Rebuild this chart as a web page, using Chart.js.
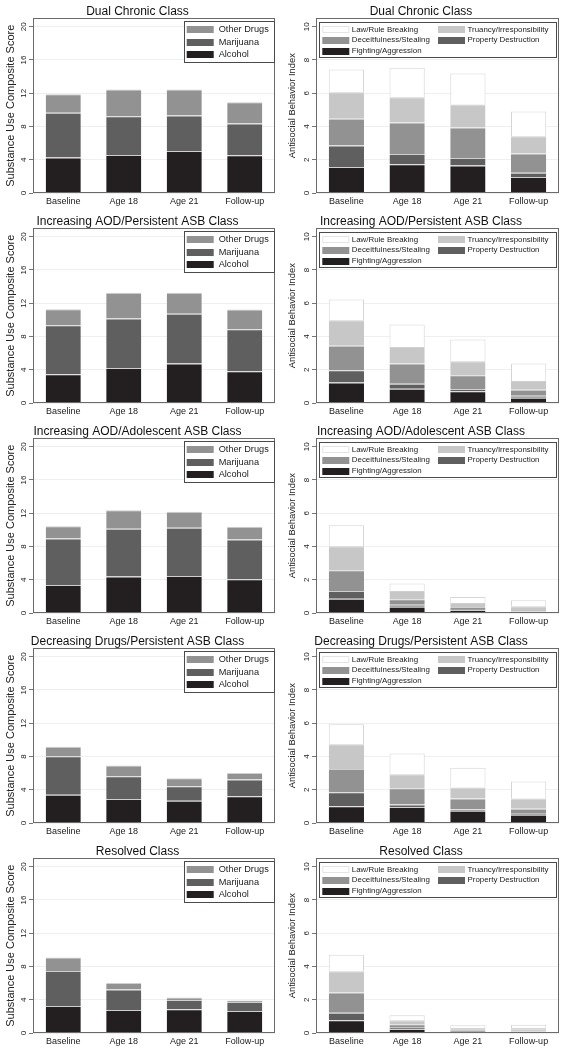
<!DOCTYPE html>
<html lang="en">
<head>
  <meta charset="UTF-8" />
  <title>Substance Use and Antisocial Behavior by Class</title>
  <script src="https://cdn.jsdelivr.net/npm/chart.js"></script>
  <style>
    body {
      margin: 0;
      background: #fff;
      font-family: 'Liberation Sans', Arial, sans-serif;
    }
    .panels {
      display: grid;
      grid-template-columns: 283px 284px;
      grid-template-rows: repeat(5, 210px);
      width: 567px;
    }
    .cell {
      position: relative;
      height: 210px;
    }
  </style>
</head>
<body>
  <div class="panels" id="panels"></div>

  <script>
    const classNames = [
      'Dual Chronic Class',
      'Increasing AOD/Persistent ASB Class',
      'Increasing AOD/Adolescent ASB Class',
      'Decreasing Drugs/Persistent ASB Class',
      'Resolved Class'
    ];
    const timePoints = ['Baseline', 'Age 18', 'Age 21', 'Follow-up'];

    // substance use composite, one row per class (stacked segment sizes)
    const alcohol = [
      [4.26, 4.58, 5.06, 4.54],
      [3.45, 4.22, 4.74, 3.82],
      [3.37, 4.38, 4.46, 4.06],
      [3.41, 2.89, 2.69, 3.21],
      [3.25, 2.77, 2.85, 2.65]
    ];
    const marijuana = [
      [5.38, 4.66, 4.26, 3.81],
      [5.91, 5.94, 5.98, 5.06],
      [5.59, 5.74, 5.78, 4.78],
      [4.62, 2.73, 1.73, 2.01],
      [4.22, 2.45, 1.13, 1.08]
    ];
    const otherDrugs = [
      [2.25, 3.21, 3.13, 2.57],
      [1.93, 3.09, 2.53, 2.36],
      [1.48, 2.25, 1.93, 1.52],
      [1.13, 1.29, 0.96, 0.80],
      [1.61, 0.80, 0.28, 0.17]
    ];

    // antisocial behavior index, one row per class
    const fighting = [
      [1.57, 1.73, 1.65, 0.96],
      [1.24, 0.86, 0.70, 0.32],
      [0.86, 0.38, 0.18, 0.10],
      [1.00, 0.96, 0.74, 0.50],
      [0.76, 0.24, 0.12, 0.10]
    ];
    const propertyDestruction = [
      [1.28, 0.62, 0.46, 0.26],
      [0.73, 0.30, 0.14, 0.12],
      [0.47, 0.12, 0.06, 0.04],
      [0.85, 0.16, 0.08, 0.10],
      [0.46, 0.08, 0.04, 0.04]
    ];
    const deceitfulness = [
      [1.61, 1.89, 1.83, 1.15],
      [1.48, 1.21, 0.83, 0.36],
      [1.24, 0.32, 0.12, 0.10],
      [1.40, 0.97, 0.65, 0.26],
      [1.21, 0.20, 0.06, 0.06]
    ];
    const truancy = [
      [1.60, 1.52, 1.38, 1.04],
      [1.53, 1.00, 0.84, 0.53],
      [1.45, 0.51, 0.24, 0.16],
      [1.49, 0.84, 0.66, 0.61],
      [1.28, 0.24, 0.08, 0.10]
    ];
    const lawBreaking = [
      [1.37, 1.77, 1.87, 1.49],
      [1.24, 1.35, 1.31, 1.04],
      [1.26, 0.44, 0.36, 0.36],
      [1.20, 1.25, 1.20, 1.02],
      [0.99, 0.30, 0.16, 0.20]
    ];

    const suMax = 21, suStep = 4;
    const asbMax = 10.5, asbStep = 2;

    const FONT = "'Liberation Sans', Arial, sans-serif";
    const shades = ['#231f20', '#5f5f5f', '#929292', '#c7c7c7', '#ffffff'];

    // frame around the plot region
    const frame = {
      id: 'frame',
      afterDatasetsDraw(chart) {
        const a = chart.chartArea;
        const ctx = chart.ctx;
        ctx.save();
        ctx.strokeStyle = '#6a6a6a';
        ctx.lineWidth = 1;
        ctx.strokeRect(Math.round(a.left) + 0.5, Math.round(a.top) + 0.5,
          Math.round(a.right - a.left) - 1, Math.round(a.bottom - a.top) - 1);
        ctx.restore();
      }
    };

    // boxed legend inside the plot, laid out in columns
    const boxLegend = {
      id: 'boxLegend',
      afterDraw(chart, args, o) {
        const a = chart.chartArea;
        const ctx = chart.ctx;
        const ds = chart.data.datasets;
        const x0 = Math.round(a.left + o.left);
        const y0 = Math.round(a.top + o.top);
        ctx.save();
        ctx.fillStyle = '#fff';
        ctx.fillRect(x0, y0, o.width, o.height);
        ctx.strokeStyle = '#4a4a4a';
        ctx.lineWidth = 1;
        ctx.strokeRect(x0 + 0.5, y0 + 0.5, o.width, o.height);
        ctx.font = o.fontSize + 'px ' + FONT;
        ctx.textBaseline = 'middle';
        o.order.forEach((di, i) => {
          const col = i % o.columns.length;
          const row = Math.floor(i / o.columns.length);
          const sx = x0 + o.columns[col];
          const cy = y0 + o.firstRow + row * o.rowHeight;
          ctx.fillStyle = ds[di].backgroundColor;
          ctx.fillRect(sx, Math.round(cy - o.swatchH / 2), o.swatchW, o.swatchH);
          if (ds[di].backgroundColor === '#ffffff') {
            ctx.strokeStyle = '#e4e4e4';
            ctx.strokeRect(sx + 0.5, Math.round(cy - o.swatchH / 2) + 0.5, o.swatchW - 1, o.swatchH - 1);
          }
          ctx.fillStyle = '#222';
          ctx.fillText(ds[di].label, sx + o.swatchW + o.gap, cy);
        });
        ctx.restore();
      }
    };

    function barSet(label, data, color) {
      const white = color === '#ffffff';
      return {
        label: label,
        data: data,
        backgroundColor: color,
        borderColor: white ? '#d6d6d6' : '#cfcfcf',
        borderWidth: white ? { top: 1, left: 1, right: 1, bottom: 0 } : { top: 1, left: 0, right: 0, bottom: 0 },
        borderSkipped: false,
        barPercentage: 0.58,
        categoryPercentage: 1
      };
    }

    function makeChart(canvas, title, datasets, yTitle, yTitleSize, yMax, yStep, legendOpts) {
      return new Chart(canvas, {
        type: 'bar',
        data: { labels: timePoints, datasets: datasets },
        plugins: [frame, boxLegend],
        options: {
          responsive: true,
          maintainAspectRatio: false,
          animation: false,
          layout: { padding: { left: 0, right: 8, top: 0, bottom: 0 } },
          plugins: {
            legend: { display: false },
            tooltip: { enabled: false },
            title: {
              display: true,
              text: title,
              color: '#111',
              font: { family: FONT, size: 12, weight: 'normal' },
              padding: { top: 4, bottom: 0 }
            },
            boxLegend: legendOpts
          },
          scales: {
            x: {
              stacked: true,
              offset: true,
              grid: { display: false, drawTicks: false },
              border: { display: false },
              ticks: {
                color: '#222',
                font: { family: FONT, size: 9 },
                padding: 3,
                maxRotation: 0,
                autoSkip: false
              },
              afterFit: (s) => { s.height = 17; }
            },
            y: {
              stacked: true,
              min: 0,
              max: yMax,
              bounds: 'data',
              grid: { color: '#efefef', tickColor: '#777', tickLength: 4 },
              border: { display: false },
              ticks: {
                stepSize: yStep,
                includeBounds: false,
                color: '#222',
                font: { family: FONT, size: 8 },
                minRotation: 90,
                maxRotation: 90,
                crossAlign: 'center',
                padding: 1
              },
              afterBuildTicks: (s) => {
                s.ticks = s.ticks.filter((t) => Math.abs(t.value / yStep - Math.round(t.value / yStep)) < 1e-6);
              },
              title: {
                display: true,
                text: yTitle,
                color: '#222',
                font: { family: FONT, size: yTitleSize },
                padding: { top: 4, bottom: 0 }
              },
              afterFit: (s) => { s.width = 33; }
            }
          }
        }
      });
    }

    const suLegend = {
      left: 150.6, top: 2.4, width: 90, height: 41,
      columns: [2.7], firstRow: 8.7, rowHeight: 12.3,
      swatchW: 27, swatchH: 7, gap: 5, fontSize: 9.2,
      order: [2, 1, 0]
    };
    const asbLegend = {
      left: 3.3, top: 3.4, width: 237, height: 35,
      columns: [3.3, 119], firstRow: 7.6, rowHeight: 10.7,
      swatchW: 27, swatchH: 7, gap: 2.5, fontSize: 7.9,
      order: [4, 3, 2, 1, 0]
    };

    const panels = document.getElementById('panels');
    classNames.forEach((name, k) => {
      const leftCell = document.createElement('div');
      leftCell.className = 'cell';
      const leftCanvas = document.createElement('canvas');
      leftCell.appendChild(leftCanvas);
      panels.appendChild(leftCell);

      const rightCell = document.createElement('div');
      rightCell.className = 'cell';
      const rightCanvas = document.createElement('canvas');
      rightCell.appendChild(rightCanvas);
      panels.appendChild(rightCell);

      makeChart(leftCanvas, name, [
        barSet('Alcohol', alcohol[k], shades[0]),
        barSet('Marijuana', marijuana[k], shades[1]),
        barSet('Other Drugs', otherDrugs[k], shades[2])
      ], 'Substance Use Composite Score', 11, suMax, suStep, suLegend);

      makeChart(rightCanvas, name, [
        barSet('Fighting/Aggression', fighting[k], shades[0]),
        barSet('Property Destruction', propertyDestruction[k], shades[1]),
        barSet('Deceitfulness/Stealing', deceitfulness[k], shades[2]),
        barSet('Truancy/Irresponsibility', truancy[k], shades[3]),
        barSet('Law/Rule Breaking', lawBreaking[k], shades[4])
      ], 'Antisocial Behavior Index', 9.4, asbMax, asbStep, asbLegend);
    });
  </script>
</body>
</html>
